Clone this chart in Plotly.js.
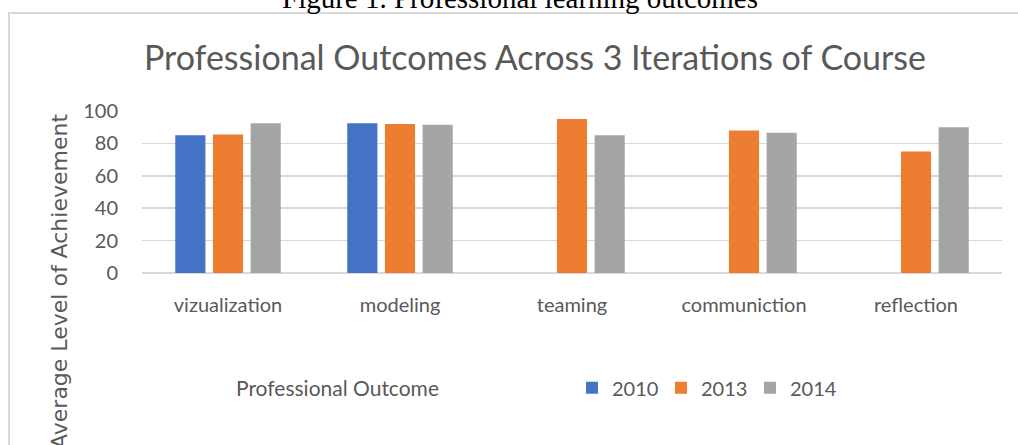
<!DOCTYPE html>
<html>
<head>
<meta charset="utf-8">
<script src="https://cdn.plot.ly/plotly-3.0.1.min.js"></script>
<style>
html,body{margin:0;padding:0;width:1018px;height:445px;overflow:hidden;background:#fff;}
#frame{position:absolute;left:8px;top:12px;width:1040px;height:460px;border:2px solid #D9D9D9;box-sizing:border-box;}
#chart{position:absolute;left:0;top:0;width:1018px;height:445px;}
</style>
</head>
<body>
<div id="frame"></div>
<div id="chart"></div>
<script>
const categories = ['vizualization', 'modeling', 'teaming', 'communiction', 'reflection'];
const series2010 = [85, 92.5, null, null, null];
const series2013 = [85.5, 92, 95, 88, 75];
const series2014 = [92.5, 91.5, 85, 86.5, 90];
const seriesNames = ['2010', '2013', '2014'];
const yTicks = [0, 20, 40, 60, 80, 100];

const colors = ['#4472C4', '#ED7D31', '#A5A5A5'];
const allSeries = [series2010, series2013, series2014];

const traces = allSeries.map((vals, i) => ({
  type: 'bar',
  name: seriesNames[i],
  x: categories,
  y: vals,
  marker: {color: colors[i], line: {width: 0}},
  hoverinfo: 'x+y+name'
}));

const FONT = 'Lato, Open Sans, sans-serif';
const tickFont = {family: FONT, size: 20, color: '#595959'};

const layout = {
  width: 1018,
  height: 445,
  margin: {l: 142, r: 16, t: 111, b: 172},
  paper_bgcolor: 'rgba(0,0,0,0)',
  plot_bgcolor: 'rgba(0,0,0,0)',
  barmode: 'group',
  bargap: 0.343,
  bargroupgap: 0.2,
  title: {
    text: 'Professional Outcomes Across 3 Iterations of Course',
    font: {family: FONT, size: 34, color: '#595959'},
    x: 0.5255, xref: 'container', xanchor: 'center',
    y: 0.87, yref: 'container', yanchor: 'middle'
  },
  xaxis: {
    type: 'category',
    tickfont: tickFont,
    ticks: 'outside', ticklen: 14, tickcolor: 'rgba(0,0,0,0)',
    showline: false, showgrid: false, zeroline: false
  },
  yaxis: {
    range: [0, 100],
    tickvals: yTicks,
    tickfont: tickFont,
    ticks: 'outside', ticklen: 19, tickcolor: 'rgba(0,0,0,0)',
    showgrid: true, gridcolor: '#D9D9D9', gridwidth: 1.5,
    zeroline: true, zerolinecolor: '#D9D9D9', zerolinewidth: 1.5,
    showline: false
  },
  showlegend: true,
  legend: {
    orientation: 'h',
    x: 0.5, xanchor: 'left',
    y: -0.709, yanchor: 'middle',
    font: {family: FONT, size: 20, color: '#595959'},
    itemwidth: 30,
    entrywidth: 44, entrywidthmode: 'pixels',
    bgcolor: 'rgba(0,0,0,0)'
  },
  annotations: [
    {
      text: 'Professional Outcome',
      xref: 'paper', yref: 'paper',
      x: (337 - 142) / 860, y: -0.709,
      xanchor: 'center', yanchor: 'middle',
      showarrow: false,
      font: {family: FONT, size: 21, color: '#595959'}
    },
    {
      text: 'Average Level of Achievement',
      xref: 'paper', yref: 'paper',
      x: (60 - 142) / 860, y: (273 - 282) / 162.3,
      xanchor: 'center', yanchor: 'middle',
      textangle: -90,
      showarrow: false,
      font: {family: 'DejaVu Sans, sans-serif', size: 22, color: '#595959'}
    },
    {
      text: 'Figure 1. Professional learning outcomes',
      xref: 'paper', yref: 'paper',
      x: (520 - 142) / 860, y: (273 + 3) / 162.3,
      xanchor: 'center', yanchor: 'middle',
      showarrow: false,
      font: {family: 'Liberation Serif, serif', size: 29, color: '#000000'}
    }
  ]
};

Plotly.newPlot('chart', traces, layout, {displayModeBar: false, staticPlot: true});
</script>
</body>
</html>
